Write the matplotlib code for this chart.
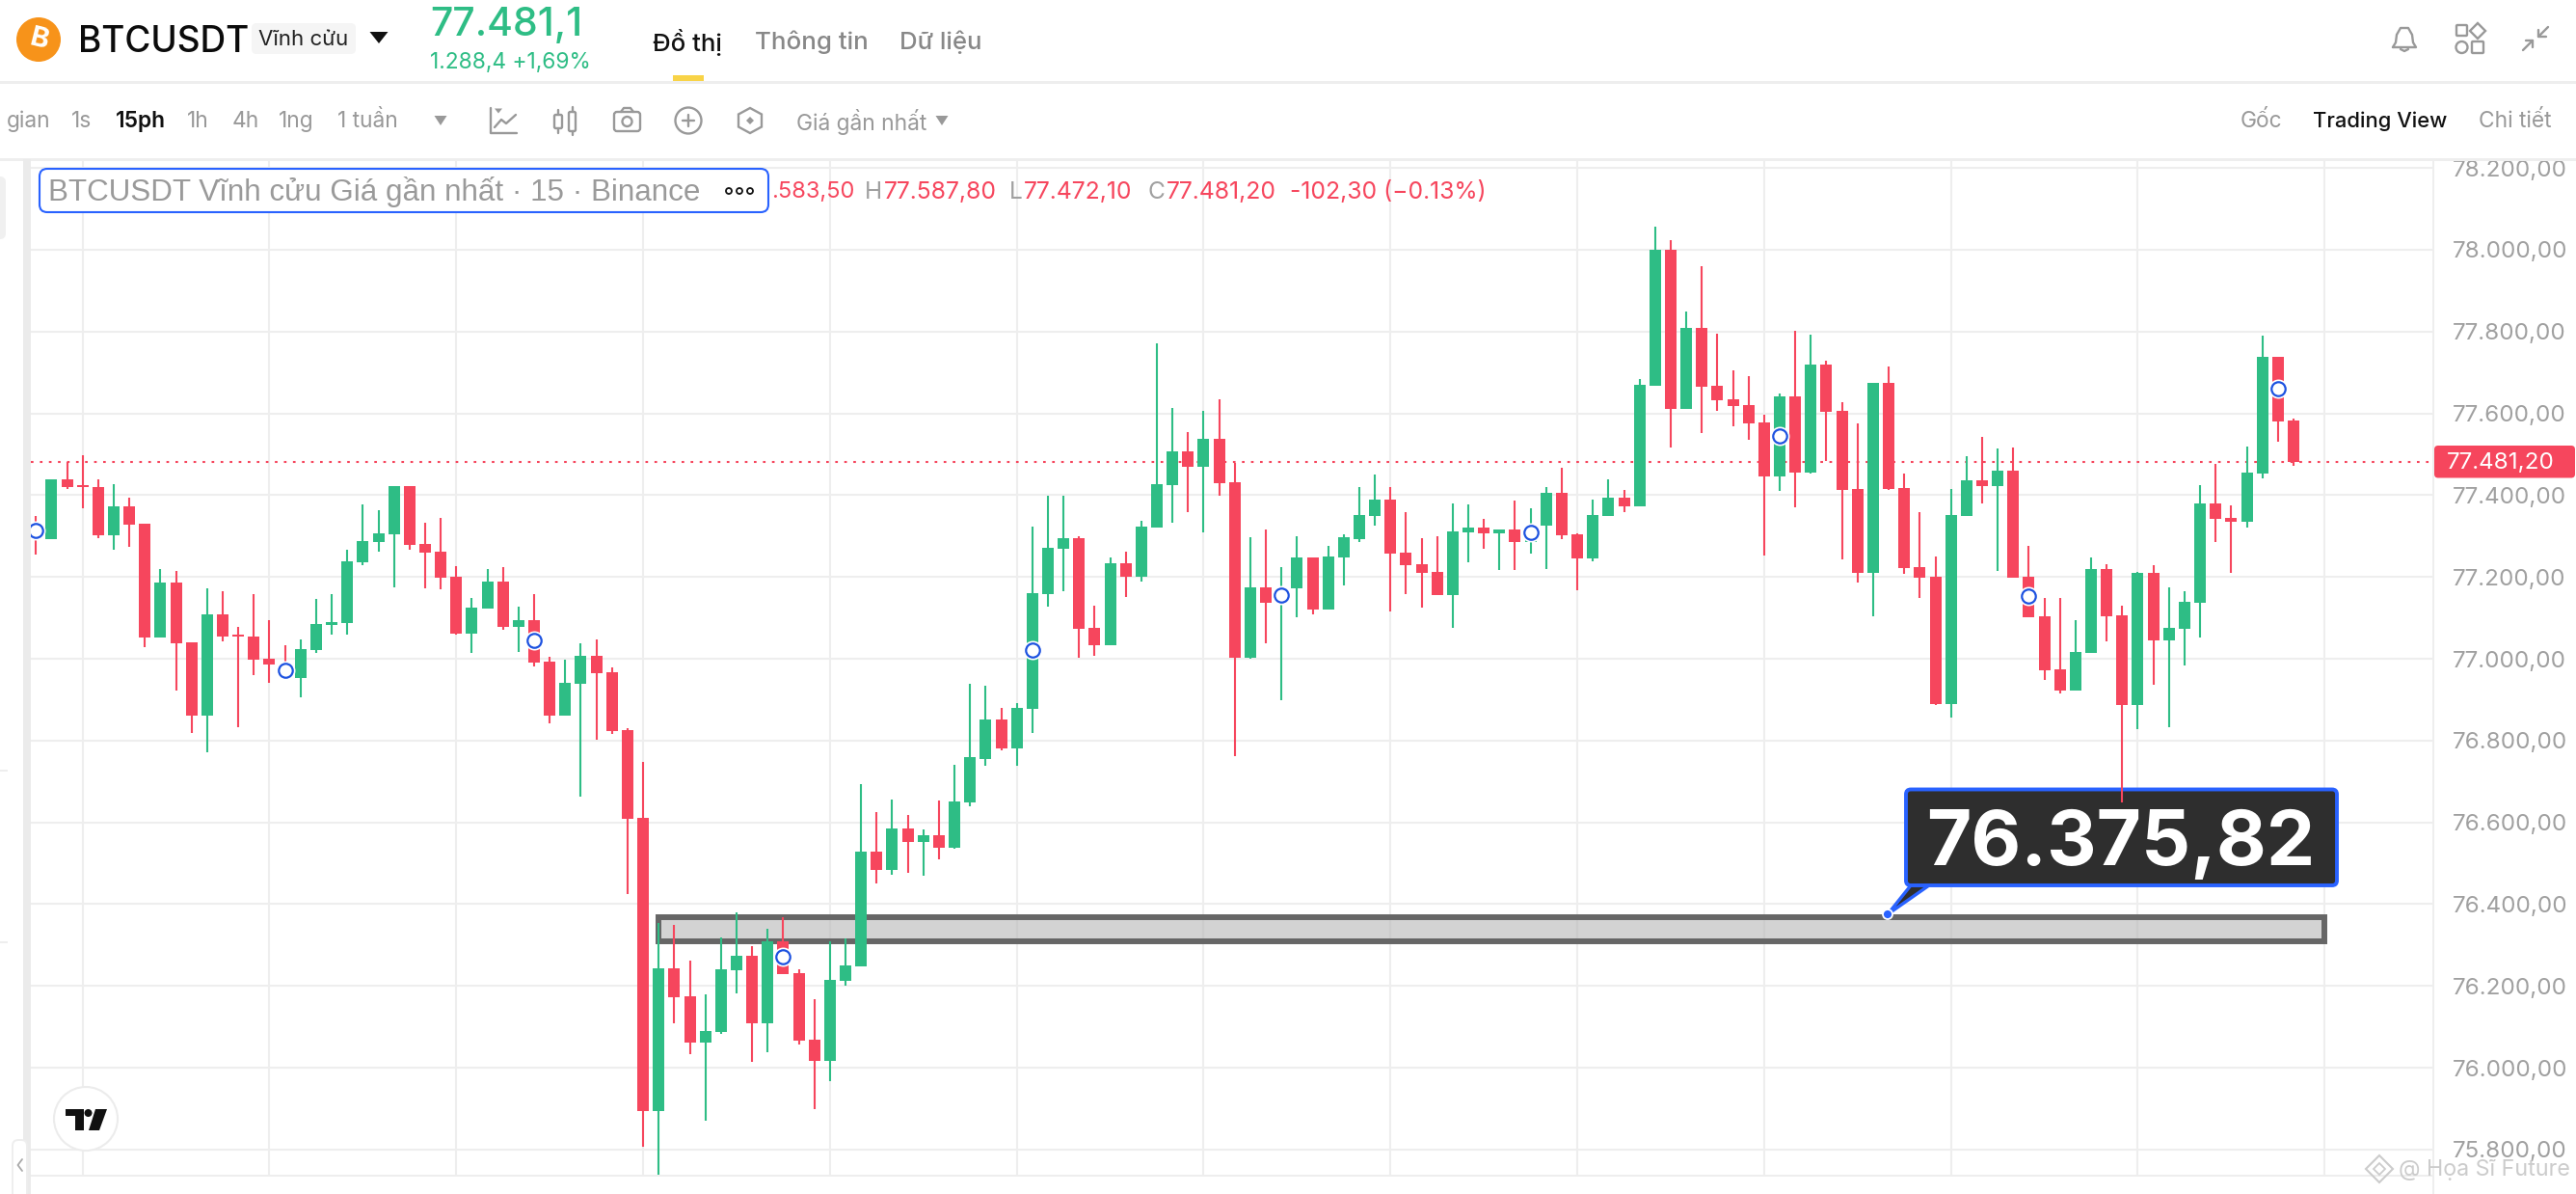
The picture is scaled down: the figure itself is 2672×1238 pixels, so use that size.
import matplotlib
matplotlib.use("Agg")
import matplotlib.pyplot as plt
from matplotlib.patches import Rectangle, FancyBboxPatch, Polygon, Circle
from matplotlib.transforms import Affine2D

plt.rcParams['font.family'] = ['Inter', 'DejaVu Sans']

W, H = 2672, 1238

opens = [77327,77292,77439,77424,77419,77302,77373,77331,77052,77187,77040,76861,77109,77059,77055,77001,76989,76953,77021,77082,
         77087,77236,77285,77304,77422,77280,77262,77201,77062,77123,77189,77077,77094,76993,76861,76938,77007,76967,76825,76611,
         75895,76243,76175,76062,76088,76239,76274,76109,76309,76231,76069,76017,76213,76248,76529,76484,76585,76552,76569,76539,
         76649,76755,76852,76781,76877,77158,77269,77295,77075,77033,77233,77201,77321,77425,77507,77469,77537,77432,77003,77174,
         77141,77172,77248,77120,77248,77293,77349,77390,77260,77231,77213,77155,77309,77321,77307,77316,77285,77326,77406,77305,
         77246,77349,77394,77373,77668,78000,77611,77809,77668,77635,77620,77578,77446,77641,77455,77720,77606,77415,77209,77675,
         77418,77224,77200,76889,77349,77436,77422,77460,77200,77104,76974,76922,77015,77219,77106,76887,77209,77045,77074,77137,
         77380,77344,77335,77452,77738,77583.5]
highs = [77349,77439,77481,77497,77439,77427,77394,77331,77219,77214,77040,77172,77165,77077,77158,77094,77033,77047,77146,77158,
         77267,77377,77363,77422,77422,77333,77344,77226,77148,77219,77224,77128,77158,77004,76998,77038,77047,76979,76830,76747,
         76354,76349,76262,76180,76319,76380,76297,76340,76368,76241,76168,76309,76316,76693,76626,76656,76618,76583,76653,76741,
         76938,76934,76880,76892,77324,77398,77398,77299,77130,77248,77262,77337,77771,77613,77554,77606,77634,77478,77297,77316,
         77224,77299,77248,77276,77305,77420,77450,77420,77358,77295,77299,77380,77378,77342,77316,77387,77368,77420,77467,77307,
         77390,77438,77413,77684,78057,78024,77849,77960,77795,77705,77691,77597,77649,77802,77792,77729,77627,77576,77675,77715,
         77452,77359,77250,77415,77495,77542,77514,77517,77276,77148,77148,77095,77247,77231,77129,77212,77228,77175,77165,77424,
         77477,77375,77519,77789,77738,77587.8]
lows = [77255,77292,77415,77368,77295,77267,77273,77028,77052,76923,76818,76771,77043,76833,76960,76941,76954,76906,77014,77059,
        77059,77229,77262,77175,77267,77172,77170,77059,77014,77123,77070,77016,76981,76842,76861,76663,76801,76816,76425,75807,
        75739,76109,76033,75871,76083,76182,76014,76038,76229,76057,75899,75967,76201,76248,76451,76472,76476,76470,76510,76535,
        76640,76738,76776,76738,76818,77128,77165,77003,77007,77033,77151,77189,77321,77333,77358,77309,77398,76762,77001,77038,
        76898,77102,77108,77120,77179,77285,77326,77116,77158,77125,77155,77075,77236,77269,77217,77217,77257,77219,77293,77167,
        77238,77349,77358,77373,77668,77517,77611,77552,77606,77568,77535,77252,77411,77370,77453,77484,77243,77186,77104,77412,
        77207,77148,76887,76856,77349,77380,77215,77198,77101,76948,76915,76922,77015,77042,76648,76828,76937,76832,76983,77051,
        77285,77209,77321,77441,77530,77472.1]
closes = [77303,77439,77419,77419,77302,77373,77328,77052,77187,77038,76861,77109,77055,77055,76998,76986,76955,77023,77085,77089,
          77238,77287,77307,77422,77278,77260,77199,77062,77125,77189,77077,77094,76991,76861,76941,77007,76965,76823,76608,75894,
          76243,76172,76062,76090,76241,76274,76109,76309,76229,76066,76017,76215,76250,76529,76484,76585,76552,76569,76539,76651,
          76760,76852,76781,76880,77161,77271,77295,77073,77033,77233,77201,77324,77427,77507,77469,77537,77429,77003,77174,77137,
          77172,77248,77120,77250,77297,77352,77390,77257,77229,77210,77155,77311,77321,77307,77316,77285,77326,77406,77302,77246,
          77352,77394,77373,77670,78000,77611,77809,77665,77632,77618,77576,77446,77641,77455,77720,77604,77412,77209,77675,77415,
          77222,77198,76889,77351,77436,77422,77460,77198,77101,76971,76922,77017,77219,77104,76887,77209,77045,77076,77139,77380,
          77342,77335,77455,77738,77580,77481.2]
marker_idx = [0,16,32,48,64,80,96,112,128,144]
marker_price = [77314,76972,77044,76272,77022,77156,77309,77545,77154,77660]
price_ticks = [75800,76000,76200,76400,76600,76800,77000,77200,77400,77600,77800,78000,78200]
price_labels = ['75.800,00','76.000,00','76.200,00','76.400,00','76.600,00','76.800,00','77.000,00','77.200,00','77.400,00','77.600,00','77.800,00','78.000,00','78.200,00']
time_grid_idx = [3,15,27,39,51,63,75,87,99,111,123,135,147]
last_price = 77481.2
last_label = '77.481,20'
zone_idx = (40, 147)
zone_price = (76309, 76368)

GREEN, RED, BLUE = '#2ebd85', '#f6465d', '#2962ff'
GRID, GRAY = '#eeeeee', '#a0a0a0'

fig = plt.figure(figsize=(W/100, H/100), dpi=100, facecolor='white')
px = Affine2D().scale(1, -1).translate(0, H)   # pixel coordinates, origin top-left

AL, AR, AT, AB = 32, 2524, 165, 1218.7
ax = fig.add_axes([AL/W, 1-AB/H, (AR-AL)/W, (AB-AT)/H], zorder=1)
ax.set_xlim(-0.325, 153.98)
ax.set_ylim(75736.9, 78221.5)
for s in ax.spines.values():
    s.set_visible(False)
ax.set_xticks(time_grid_idx)
ax.set_xticklabels([])
ax.set_yticks(price_ticks)
ax.set_yticklabels(price_labels, fontsize=17.4, color=GRAY)
ax.yaxis.tick_right()
ax.tick_params(axis='both', length=0, pad=14)
ax.grid(True, color=GRID, lw=1.5, zorder=0)
ax.set_axisbelow(True)

# zone
ax.add_patch(Rectangle((zone_idx[0], zone_price[0]), zone_idx[1]-zone_idx[0], zone_price[1]-zone_price[0],
                       facecolor=(0.72, 0.72, 0.72, 0.62), edgecolor='#666666', lw=4.3, zorder=1.5, joinstyle='miter'))

# callout (below the candles)
ax.add_patch(Polygon([(1958, 948), (1982, 918), (2001, 918)], closed=True, facecolor='#2e2e2e', edgecolor=BLUE,
                     lw=2.4, transform=px, zorder=1.6, clip_on=False))
ax.add_patch(FancyBboxPatch((1977, 818.5), 447, 99.5, boxstyle='round,pad=0,rounding_size=5', facecolor='#2e2e2e',
                            edgecolor=BLUE, lw=2.8, transform=px, zorder=1.7, clip_on=False))
ax.text(2200, 868, '76.375,82', color='white', fontsize=57.6, fontweight='bold', ha='center', va='center_baseline',
        transform=px, zorder=1.8)
ax.add_patch(Circle((1958, 948), 5, facecolor=BLUE, edgecolor='white', lw=1.3, transform=px, zorder=1.9, clip_on=False))

# last price
ax.axhline(last_price, color=RED, lw=1.5, dashes=(1.3, 3.2), zorder=1.55)

# candles
idx = list(range(len(opens)))
cols = [GREEN if c >= o else RED for o, c in zip(opens, closes)]
ax.vlines(idx, lows, highs, colors=cols, lw=1.5, zorder=3, capstyle='butt')
ax.bar(idx, [abs(c-o) for o, c in zip(opens, closes)], bottom=[min(o, c) for o, c in zip(opens, closes)],
       width=0.743, color=cols, linewidth=0, zorder=3.1)
ax.scatter(marker_idx, marker_price, s=207, facecolor='white', edgecolor='white', lw=0, zorder=4)
ax.scatter(marker_idx, marker_price, s=108, facecolor='white', edgecolor='#1d52e0', lw=1.6, zorder=4.1)

# ---- interface overlay, in pixel coordinates
ui = fig.add_axes([0, 0, 1, 1], zorder=5)
ui.set_xlim(0, W)
ui.set_ylim(H, 0)
ui.axis('off')
ui.patch.set_alpha(0)

def rect(x0, y0, x1, y1, c, z=1):
    ui.add_patch(Rectangle((x0, y0), x1-x0, y1-y0, facecolor=c, edgecolor='none', zorder=z))

def txt(x, y, s, size, color='#999999', weight='normal', ha='left', **kw):
    return ui.text(x, y, s, fontsize=size, color=color, fontweight=weight, ha=ha, va='center', zorder=6, **kw)

def tri(cx, cy, w, h, c):
    ui.add_patch(Polygon([(cx-w/2, cy-h/2), (cx+w/2, cy-h/2), (cx, cy+h/2)], closed=True, facecolor=c, edgecolor='none', zorder=6))

ICON = '#999999'
def line(xs, ys, c=ICON, lw=1.7, z=6):
    ui.plot(xs, ys, color=c, lw=lw, zorder=z, solid_capstyle='round', solid_joinstyle='round')

def round_box(x0, y0, x1, y1, r, fc='none', ec=ICON, lw=1.7, z=6):
    ui.add_patch(FancyBboxPatch((x0, y0), x1-x0, y1-y0, boxstyle=f'round,pad=0,rounding_size={r}', facecolor=fc, edgecolor=ec, lw=lw, zorder=z))

rect(0, 0, W, 165, 'white')
rect(0, 84, W, 87, '#eeeeee', 2)
rect(0, 164, W, 167, '#eeeeee', 2)
rect(0, 165, 24, H, 'white')
rect(24, 165, 32, H, '#ebebeb', 2)
rect(AL, AB-1, AR, AB+1, '#eeeeee', 2)
rect(AL, AB+1, AR, H, 'white')
rect(AR-1, 165, AR+1, H, '#eeeeee', 2)
rect(0, 798, 8, 800, '#eeeeee', 2)
rect(0, 976, 8, 978, '#eeeeee', 2)
round_box(-10, 183, 6, 248, 6, fc='#f0f0f0', ec='none', lw=0, z=2)
round_box(13, 1182, 28, 1250, 6, fc='white', ec='#eeeeee', lw=1.4, z=2)
line([23, 18.5, 23], [1202, 1208, 1214], c='#aaaaaa', lw=1.3)

# logo + header
ui.add_patch(Circle((40, 41), 23, facecolor='#f7931a', edgecolor='none', zorder=6))
txt(40, 41, 'B', 21, 'white', 'bold', ha='center', rotation=-14)
txt(81, 43.5, 'BTCUSDT', 26.6, '#0b0b0b', 'medium')
round_box(261, 24, 369, 56, 5, fc='#f5f5f5', ec='none', lw=0, z=5)
txt(315, 41, 'Vĩnh cửu', 16, '#222222', ha='center')
tri(393, 39, 19, 12, '#111111')
txt(446, 26, '77.481,1', 29.5, GREEN, 'medium')
txt(446, 65, '1.288,4 +1,69%', 16.4, GREEN)
txt(677, 44, 'Đồ thị', 18.6, '#111111', 'medium')
txt(783, 44, 'Thông tin', 18.7, '#888888', 'medium')
txt(933, 44, 'Dữ liệu', 18.5, '#888888', 'medium')
rect(698, 78, 730, 84, '#f8d347', 3)

# toolbar
for x, s in [(7, 'gian'), (74, '1s'), (194, '1h'), (241, '4h'), (289, '1ng'), (350, '1 tuần'), (826, 'Giá gần nhất')]:
    txt(x, 126, s, 16.4)
txt(120, 126, '15ph', 16.4, '#111111', 'semibold')
tri(457, 125, 13, 10, '#999999')
tri(977, 125, 13, 10, '#999999')
txt(2324, 126, 'Gốc', 16.4)
txt(2399, 126, 'Trading View', 15.8, '#111111', 'medium')
txt(2571, 126, 'Chi tiết', 16.4)

# toolbar icons
line([509, 509, 536], [112, 138, 138])
line([513, 520, 525, 535], [132, 124, 128, 119])
tri(517, 115, 8, 5, ICON)
round_box(575, 119, 583, 133, 1.5)
line([579, 579], [114, 119]); line([579, 579], [133, 138])
round_box(590, 116, 597, 136, 1.5)
line([593.5, 593.5], [111, 116]); line([593.5, 593.5], [136, 140])
round_box(637, 116, 664, 136, 3)
ui.add_patch(Circle((650.5, 126), 5, facecolor='none', edgecolor=ICON, lw=1.7, zorder=6))
line([644, 647, 654, 657], [116, 112, 112, 116])
ui.add_patch(Circle((714, 125), 13.5, facecolor='none', edgecolor=ICON, lw=1.7, zorder=6))
line([708, 720], [125, 125]); line([714, 714], [119, 131])
ui.add_patch(Polygon([(778, 112), (790, 118.5), (790, 131.5), (778, 138), (766, 131.5), (766, 118.5)], closed=True, facecolor='none', edgecolor=ICON, lw=1.7, zorder=6))
ui.add_patch(Polygon([(778, 121), (782, 125), (778, 129), (774, 125)], closed=True, facecolor=ICON, edgecolor='none', zorder=6))

# top right icons
line([2482, 2485, 2486, 2490, 2498, 2502, 2503, 2506, 2482], [49, 44, 36, 29, 29, 36, 44, 49, 49])
line([2490, 2494, 2498], [51, 53, 51])
round_box(2548, 26, 2559, 37, 1)
ui.add_patch(Polygon([(2570, 24), (2578, 32), (2570, 40), (2562, 32)], closed=True, facecolor='none', edgecolor=ICON, lw=1.7, zorder=6))
ui.add_patch(Circle((2553.5, 49), 6, facecolor='none', edgecolor=ICON, lw=1.7, zorder=6))
round_box(2564, 43, 2576, 55, 1)
line([2643, 2633], [28, 38]); line([2633, 2633, 2641], [31, 38, 38])
line([2617, 2627], [52, 42]); line([2620, 2627, 2627], [42, 42, 49])

# legend
round_box(41, 175, 797, 220, 8, fc='white', ec=BLUE, lw=1.5, z=4)
txt(50, 199, 'BTCUSDT Vĩnh cửu Giá gần nhất · 15 · Binance', 22.6, '#9a9a9a', family=['Liberation Sans', 'DejaVu Sans'])
for cx in (756, 767, 778):
    ui.add_patch(Circle((cx, 198), 3, facecolor='none', edgecolor='#111111', lw=1.3, zorder=6))
txt(800, 199, '.583,50', 17, RED)
txt(897, 199, 'H', 17.6, '#a0a0a0')
txt(917, 199, '77.587,80', 17.8, RED)
txt(1047, 199, 'L', 17.6, '#a0a0a0')
txt(1062, 199, '77.472,10', 17.8, RED)
txt(1190, 199, 'C', 17.6, '#a0a0a0')
txt(1210, 199, '77.481,20', 17.8, RED)
txt(1338, 199, '-102,30 (−0.13%)', 17.8, RED)

# last price label
round_box(2525, 462, 2671, 495.5, 4, fc=RED, ec='none', lw=0, z=5)
txt(2538, 479.5, last_label, 17.4, 'white')

# TradingView badge
ui.add_patch(Circle((89, 1160), 33, facecolor='white', edgecolor='#ececec', lw=1.5, zorder=5))
ui.add_patch(Polygon([(68, 1150), (87, 1150), (87, 1172), (78, 1172), (78, 1157), (68, 1157)], closed=True, facecolor='#111111', edgecolor='none', zorder=6))
ui.add_patch(Circle((91.5, 1154), 4, facecolor='#111111', edgecolor='none', zorder=6))
ui.add_patch(Polygon([(99, 1150), (111, 1150), (103, 1172), (92, 1172)], closed=True, facecolor='#111111', edgecolor='none', zorder=6))

# watermark
WM = '#cccccc'
ui.add_patch(Polygon([(2468, 1198), (2482, 1212), (2468, 1226), (2454, 1212)], closed=True, facecolor='none', edgecolor=WM, lw=1.5, zorder=6))
ui.add_patch(Polygon([(2468, 1206), (2474, 1212), (2468, 1218), (2462, 1212)], closed=True, facecolor='none', edgecolor=WM, lw=1.3, zorder=6))
txt(2488, 1213, '@ Họa Sĩ Future', 16.8, WM)

fig.savefig('out.png', dpi=100)
